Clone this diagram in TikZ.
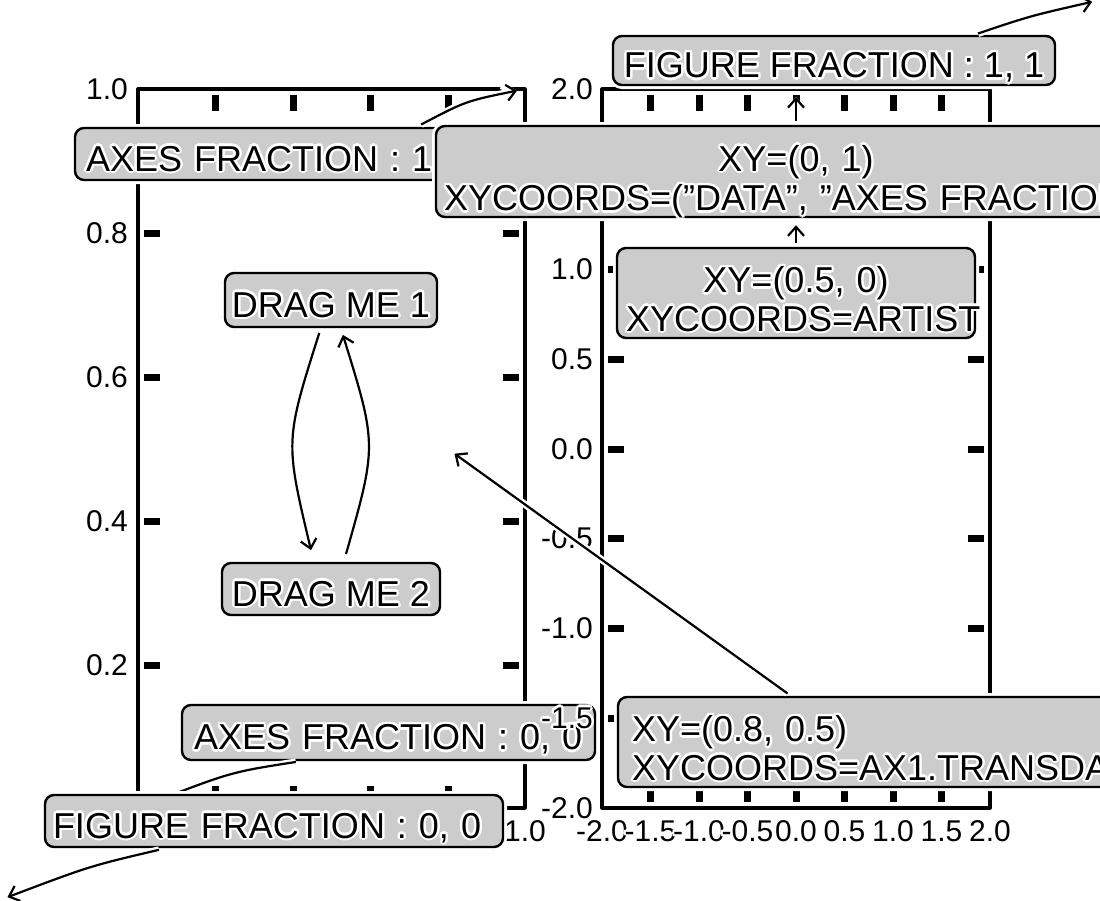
\documentclass[tikz,border=0pt]{standalone}
\usepackage{fontspec}
\setmainfont{Liberation Sans}
\usetikzlibrary{arrows.meta}
\definecolor{boxgray}{RGB}{204,204,204}
\newcommand\halotxt[1]{\leavevmode{\setbox0\hbox{#1}%
\rlap{\color{white}\kern-2.5pt\copy0}%
\rlap{\color{white}\kern2.5pt\copy0}%
\rlap{\color{white}\raise2.5pt\copy0}%
\rlap{\color{white}\lower2.5pt\copy0}%
\rlap{\color{white}\kern-1.8pt\raise1.8pt\copy0}%
\rlap{\color{white}\kern1.8pt\raise1.8pt\copy0}%
\rlap{\color{white}\kern-1.8pt\lower1.8pt\copy0}%
\rlap{\color{white}\kern1.8pt\lower1.8pt\copy0}%
\box0}}
\newcommand\dq{\symbol{34}}
\tikzset{
  spine/.style={line width=3.2pt, line join=round},
  tickmark/.style={line width=7pt},
  ticklab/.style={font=\fontsize{30pt}{30pt}\selectfont, inner sep=0pt},
  annbox/.style={draw=black, line width=2.4pt, fill=boxgray, rounded corners=9pt, inner sep=0pt,
     preaction={draw=white, line width=8pt}, font=\fontsize{36pt}{37pt}\selectfont},
  onel/.style={text height=34pt, text depth=0pt},
  twol/.style={text height=28pt, text depth=29pt},
  conn/.style={line width=2.2pt, -{Straight Barb[length=9pt,width=16pt]},
     preaction={draw=white, line width=7pt}},
}
\begin{document}
\begin{tikzpicture}[x=1pt,y=-1pt]
\path[use as bounding box, fill=white] (0,0) rectangle (1100,900);

% ---------------- ax1 ----------------
\draw[spine] (138,89) rectangle (525,808);
\foreach \y in {233,377,521,665}{
  \draw[tickmark] (144,\y) -- (160,\y);
  \draw[tickmark] (503,\y) -- (519,\y);}
\foreach \x in {215,293,370,448}{
  \draw[tickmark] (\x,95) -- (\x,111);
  \draw[tickmark] (\x,786) -- (\x,802);}
\foreach \v/\y in {1.0/89,0.8/233,0.6/377,0.4/521,0.2/665,0.0/808}
  \node[ticklab, anchor=east] (aoney\y) at (128,\y) {\halotxt{\v}};
\foreach \v/\x in {0.0/138,0.2/215,0.4/293,0.6/370,0.8/448,1.0/525}
  \node[ticklab] (aonex\x) at (\x,831) {\halotxt{\v}};

% ax1 annotations
\node[annbox, onel, minimum width=212pt, minimum height=54pt] (dm1) at (331,300) {\halotxt{DRAG ME 1}};
\node[annbox, onel, minimum width=218pt, minimum height=52pt] (dm2) at (331,589) {\halotxt{DRAG ME 2}};
\draw[conn, shorten <=5pt, shorten >=12pt] ([xshift=97pt]dm1.south west) .. controls (285,441) .. ([xshift=93pt]dm2.north west);
\draw[conn, shorten <=8pt, shorten >=7pt] ([xshift=123pt]dm2.north west) .. controls (377,445) .. ([xshift=117pt]dm1.south west);

\node[annbox, onel, minimum width=406pt, minimum height=52pt, text width=384pt, align=left] (af11) at (278,154) {\halotxt{AXES FRACTION : 1, 1}};
\coordinate (axoneTR) at (525,89);
\draw[conn, shorten <=5pt, shorten >=8pt] ([xshift=343pt]af11.north west) .. controls (466,101) .. (axoneTR);

\node[annbox, onel, minimum width=413pt, minimum height=55pt, text width=389pt, align=left] (af00) at (388.5,732.5) {\halotxt{AXES FRACTION : 0, 0}};
\coordinate (axoneBL) at (138,808);
\draw[conn, shorten <=5pt, shorten >=9pt] ([xshift=120pt]af00.south west) .. controls (231,772) .. (axoneBL);

\node[annbox, onel, minimum width=458pt, minimum height=52pt, text width=442pt, align=left] (ff00) at (274,821) {\halotxt{FIGURE FRACTION : 0, 0}};
\coordinate (figBL) at (0,900);
\draw[conn, shorten <=7pt, shorten >=8pt] ([xshift=122pt]ff00.south west) .. controls (90,866) .. (figBL);

% ---------------- ax2 ----------------
\draw[spine] (602,89) rectangle (990,808);
\foreach \y in {179,269,359,449,538,628,718}{
  \draw[tickmark] (608,\y) -- (624,\y);
  \draw[tickmark] (968,\y) -- (984,\y);}
\foreach \x in {650.5,699,747.5,796,844.5,893,941.5}{
  \draw[tickmark] (\x,95) -- (\x,111);
  \draw[tickmark] (\x,786) -- (\x,802);}
\foreach \v/\y in {2.0/89,1.5/179,1.0/269,0.5/359,0.0/449,-0.5/538,-1.0/628,-1.5/718,-2.0/808}
  \node[ticklab, anchor=east] (atwoy\y) at (593,\y) {\halotxt{\v}};
\foreach \v/\x [count=\i] in {-2.0/602,-1.5/650.5,-1.0/699,-0.5/747.5,0.0/796,0.5/844.5,1.0/893,1.5/941.5,2.0/990}
  \node[ticklab] (atwox\i) at (\x,831) {\halotxt{\v}};

% ax2 annotations
\node[annbox, twol, minimum width=542pt, minimum height=90pt, text width=514pt, align=left] (td) at (889,742) {\halotxt{XY=(0.8, 0.5)}\\\halotxt{XYCOORDS=AX1.TRANSDATA}};
\coordinate (axonept) at (448,449);
\draw[conn, shorten <=4pt, shorten >=8pt] ([xshift=174pt]td.north west) -- (axonept);

\node[annbox, twol, minimum width=720pt, minimum height=91pt, text width=710pt, align=center] (xyc) at (796,171.5) {\halotxt{XY=(0, 1)}\\\halotxt{XYCOORDS=(\dq DATA\dq, \dq AXES FRACTION\dq)}};
\coordinate (atwotop) at (796,89);
\draw[conn, shorten <=4pt, shorten >=8pt] (xyc.north) -- (atwotop);

\node[annbox, twol, minimum width=358pt, minimum height=90pt, text width=340pt, align=center] (art) at (796,293) {\halotxt{XY=(0.5, 0)}\\\halotxt{XYCOORDS=ARTIST}};
\draw[conn, shorten <=4pt, shorten >=7pt] (art.north) -- (xyc.south);

\node[annbox, onel, minimum width=442pt, minimum height=49pt] (ff11) at (834,60.5) {\halotxt{FIGURE FRACTION : 1, 1}};
\coordinate (figTR) at (1100,0);
\draw[conn, shorten <=4pt, shorten >=8pt] ([xshift=-82pt]ff11.north east) .. controls (1030,16) .. (figTR);
\end{tikzpicture}
\end{document}
